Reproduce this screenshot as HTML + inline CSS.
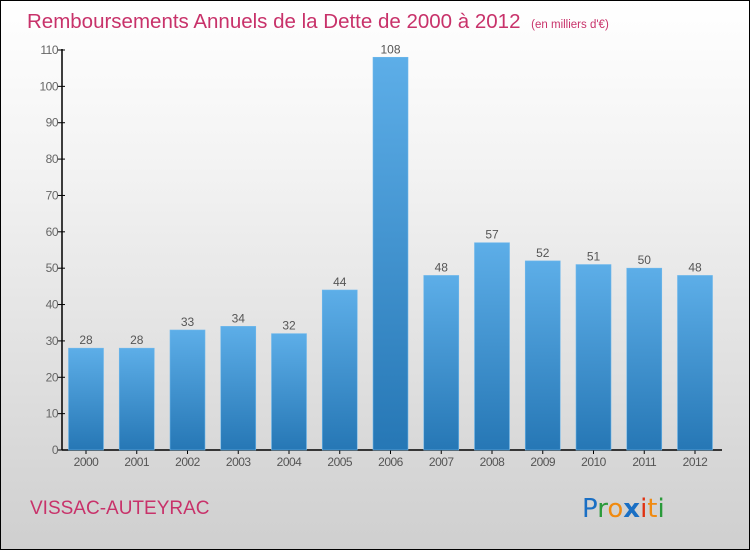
<!DOCTYPE html>
<html><head><meta charset="utf-8"><style>
body{margin:0}
#c{position:relative;width:750px;height:550px;box-sizing:border-box;border:1px solid #000;background:linear-gradient(#ffffff,#f3f3f3 30%,#cfcfcf);font-family:"Liberation Sans",sans-serif;overflow:hidden}
</style></head><body>
<div id="c">
<svg id="s" width="750" height="550" style="position:absolute;left:-1px;top:-1px">
<defs><linearGradient id="g" x1="0" y1="0" x2="0" y2="1"><stop offset="0" stop-color="#5daee8"/><stop offset="1" stop-color="#2677b5"/></linearGradient></defs>
<text x="27" y="28" font-size="20.5" fill="#c8326a">Remboursements Annuels de la Dette de 2000 à 2012 <tspan font-size="11.5" dx="5">(en milliers d'€)</tspan></text>
<text x="30" y="514" font-size="19" fill="#c8326a">VISSAC-AUTEYRAC</text>
<g font-size="26" font-family="'DejaVu Sans',sans-serif">
<text x="582" y="517"><tspan fill="#1a6fc4">P</tspan><tspan fill="#2a9a3a">r</tspan><tspan fill="#f08a10">o</tspan><tspan fill="#1a6fc4" font-weight="bold">x</tspan><tspan fill="#e03010">i</tspan><tspan fill="#f08a10">t</tspan><tspan fill="#2a9a3a">i</tspan></text>
</g>
<g id="axes"></g><g id="bars"></g>
</svg>
</div>
<script>
const categories=["2000","2001","2002","2003","2004","2005","2006","2007","2008","2009","2010","2011","2012"];
const values=[28,28,33,34,32,44,108,48,57,52,51,50,48];
const yTicks=[0,10,20,30,40,50,60,70,80,90,100,110];
const NS="http://www.w3.org/2000/svg";
const x0=62,y0=450,ppu=400/110,step=50.75,bw=35;
const y=v=>y0-v*ppu, xc=i=>86+i*step;
function mk(t,a,p){const e=document.createElementNS(NS,t);for(const k in a)e.setAttribute(k,a[k]);p.appendChild(e);return e;}
const ax=document.getElementById('axes'),bs=document.getElementById('bars');
const yl=mk('line',{x1:x0,y1:y(110)-1,x2:x0,y2:y0,stroke:'#000','stroke-width':1.5},ax);


const xl=mk('line',{x1:x0,y1:y0,x2:722,y2:y0,stroke:'#000','stroke-width':1.5},ax);


yTicks.forEach(v=>{
 mk('line',{x1:x0-4,y1:y(v),x2:x0+3,y2:y(v),stroke:'#000'},ax);
 const t=mk('text',{x:x0-4,y:y(v)+4,'text-anchor':'end','font-size':12,fill:'#666','letter-spacing':'-0.5'},ax);
 t.textContent=v;
 
 
});
categories.forEach((c,i)=>{
 const v=values[i];
 const r=mk('rect',{x:xc(i)-bw/2,y:y(v),width:bw,height:y0-y(v),fill:'url(#g)',stroke:'#6fb8ec','stroke-width':0.6},bs);
 
 
 const l=mk('text',{x:xc(i),y:y(v)-4,'text-anchor':'middle','font-size':12,fill:'#555'},bs);
 l.textContent=v;
 
 
 mk('line',{x1:xc(i),y1:y0,x2:xc(i),y2:y0+4,stroke:'#000'},ax);
 const t=mk('text',{x:xc(i),y:y0+16,'text-anchor':'middle','font-size':12,fill:'#555','letter-spacing':'-0.5'},ax);
 t.textContent=c;
 
 
});
</script>
</body></html>
